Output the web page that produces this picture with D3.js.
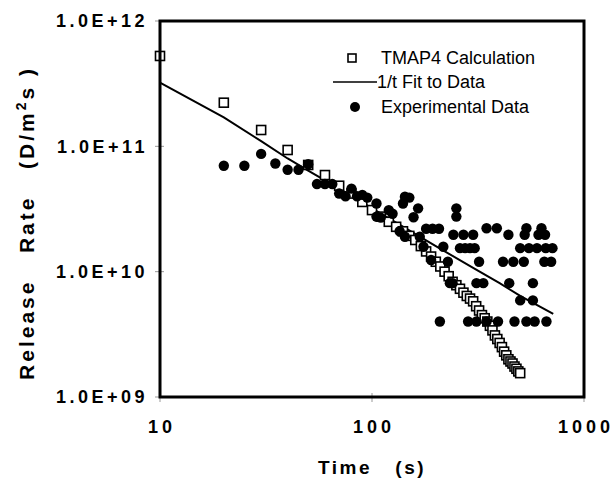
<!DOCTYPE html>
<html><head><meta charset="utf-8">
<script src="https://cdn.jsdelivr.net/npm/d3@7"></script>
<style>body{margin:0;background:#fff} svg{display:block}</style>
</head><body>
<svg id="chart" width="614" height="478"></svg>
<script>
const xTicks = [10, 100, 1000];
const xTickLabels = ["10", "100", "1000"];
const yTicks = [1e9, 1e10, 1e11, 1e12];
const yTickLabels = ["1.0E+09", "1.0E+10", "1.0E+11", "1.0E+12"];

const tmapTimes = [10,20,30,40,50,60,70,80,90,100,110,120,130,140,150,160,170,180,190,200,
  210,220,230,240,250,260,270,280,290,300,310,320,330,340,350,360,370,380,390,400,
  410,420,430,440,450,460,470,480,490,500];
const tmapValues = [5.26e11,2.23e11,1.35e11,9.35e10,7.1e10,5.9e10,4.85e10,4.2e10,3.6e10,3.1e10,
  2.75e10,2.5e10,2.28e10,2.1e10,1.93e10,1.79e10,1.6e10,1.45e10,1.32e10,1.2e10,
  1.1e10,1.0e10,9.2e9,8.3e9,7.8e9,7.3e9,6.8e9,6.4e9,6.1e9,5.8e9,
  5.3e9,4.9e9,4.5e9,4.25e9,4.0e9,3.7e9,3.4e9,3.1e9,2.9e9,2.7e9,
  2.5e9,2.3e9,2.15e9,2.0e9,1.92e9,1.85e9,1.75e9,1.68e9,1.6e9,1.55e9];

const fitTimes = [10,20,30,40,50,70,100,200,300,400,500,716];
const fitValues = [3.22e11,1.7e11,1.1e11,8.0e10,6.4e10,4.6e10,3.2e10,1.6e10,1.07e10,8.1e9,6.4e9,4.6e9];

const expTimes = [20,25,30,35,40,45,50,55,60,65,70,75,80,85,90,95,105,105,110,120,125,135,140,143,150,143,157,165,168,175,180,193,207,190,
  233,240,311,335,444,574,500,574,209,284,311,347,393,470,535,585,665,
  242,250,250,260,275,290,305,270,300,347,388,440,525,535,610,630,655,217,228,320,415,464,520,650,700,500,550,600,660,710];
const expValues = [7.0e10,7.0e10,8.7e10,7.3e10,6.5e10,6.5e10,7.2e10,5.0e10,5.0e10,5.0e10,4.2e10,4.0e10,4.6e10,4.0e10,4.1e10,3.9e10,3.5e10,2.75e10,2.7e10,3.1e10,2.9e10,2.1e10,3.5e10,3.96e10,3.9e10,1.9e10,2.72e10,3.2e10,1.9e10,1.58e10,2.2e10,2.2e10,2.2e10,1.24e10,
  8.1e9,8.1e9,8.1e9,8.1e9,8.1e9,8.1e9,5.9e9,5.9e9,4e9,4e9,4e9,4e9,4e9,4e9,4e9,4e9,4e9,
  1.97e10,3.2e10,2.75e10,1.54e10,1.54e10,1.54e10,1.54e10,1.97e10,1.97e10,2.22e10,2.22e10,1.97e10,1.97e10,2.22e10,1.97e10,2.22e10,1.97e10,1.58e10,1.2e10,1.2e10,1.2e10,1.2e10,1.2e10,1.2e10,1.2e10,1.54e10,1.54e10,1.54e10,1.54e10,1.54e10];

const legendLabels = ["TMAP4 Calculation", "1/t Fit to Data", "Experimental Data"];

const svg = d3.select("#chart");
const x = d3.scaleLog().domain([10, 1000]).range([160, 584]);
const y = d3.scaleLog().domain([1e9, 1e12]).range([397, 21]);

const tickFont = "'Liberation Sans', Arial, sans-serif";

// ticks (thin grey, crossing the axes)
svg.append("g").selectAll("line").data(yTicks).join("line")
  .attr("x1", x(10) - 5).attr("x2", x(10) + 4)
  .attr("y1", d => y(d)).attr("y2", d => y(d))
  .attr("stroke", "#999").attr("stroke-width", 1);
svg.append("g").selectAll("line").data(xTicks).join("line")
  .attr("x1", d => x(d)).attr("x2", d => x(d))
  .attr("y1", y(1e9) - 4).attr("y2", y(1e9) + 5)
  .attr("stroke", "#999").attr("stroke-width", 1);

// tick labels
svg.append("g").selectAll("text").data(yTicks).join("text")
  .attr("x", x(10) - 12).attr("y", d => y(d)).attr("dy", "0.36em")
  .attr("text-anchor", "end")
  .style("font-family", tickFont).style("font-weight", "bold").style("font-size", "18px")
  .style("letter-spacing", "3.5px")
  .text((d, i) => yTickLabels[i]);
svg.append("g").selectAll("text").data(xTicks).join("text")
  .attr("x", d => x(d) + 2).attr("y", 433)
  .attr("text-anchor", "middle")
  .style("font-family", tickFont).style("font-weight", "bold").style("font-size", "18px")
  .style("letter-spacing", "4px")
  .text((d, i) => xTickLabels[i]);

// axis titles
svg.append("text").attr("x", 372).attr("y", 474).attr("text-anchor", "middle")
  .style("font-family", tickFont).style("font-weight", "bold").style("font-size", "19px")
  .style("letter-spacing", "2.5px").style("white-space", "pre")
  .text("Time   (s)");
const yt = svg.append("text").attr("transform", "translate(34,223) rotate(-90)")
  .attr("text-anchor", "middle")
  .style("font-family", tickFont).style("font-weight", "bold").style("font-size", "21px")
  .style("letter-spacing", "3px").style("white-space", "pre");
yt.append("tspan").text("Release   Rate   (D/m");
yt.append("tspan").attr("dy", -8).style("font-size", "14px").text("2");
yt.append("tspan").attr("dy", 8).text("s )");

// fit line
const line = d3.line().x(d => x(d[0])).y(d => y(d[1]));
svg.append("path").datum(fitTimes.map((t, i) => [t, fitValues[i]]))
  .attr("d", line).attr("fill", "none").attr("stroke", "#000").attr("stroke-width", 2);

// TMAP squares
const sq = 9;
svg.append("g").selectAll("rect").data(tmapTimes.map((t, i) => [t, tmapValues[i]])).join("rect")
  .attr("x", d => x(d[0]) - sq / 2).attr("y", d => y(d[1]) - sq / 2)
  .attr("width", sq).attr("height", sq)
  .attr("fill", "#fff").attr("stroke", "#000").attr("stroke-width", 1.6);

// experimental circles
svg.append("g").selectAll("circle").data(expTimes.map((t, i) => [t, expValues[i]])).join("circle")
  .attr("cx", d => x(d[0])).attr("cy", d => y(d[1])).attr("r", 5.2).attr("fill", "#000");

// frame
svg.append("rect").attr("x", x(10)).attr("y", y(1e12))
  .attr("width", x(1000) - x(10)).attr("height", y(1e9) - y(1e12))
  .attr("fill", "none").attr("stroke", "#000").attr("stroke-width", 3);

// legend
const lg = svg.append("g").style("font-family", tickFont).style("font-size", "18px");
lg.append("rect").attr("x", 348).attr("y", 54).attr("width", 8).attr("height", 8)
  .attr("fill", "#fff").attr("stroke", "#000").attr("stroke-width", 1.6);
lg.append("line").attr("x1", 333).attr("x2", 377).attr("y1", 82).attr("y2", 82)
  .attr("stroke", "#000").attr("stroke-width", 1.5);
lg.append("circle").attr("cx", 355).attr("cy", 107).attr("r", 5).attr("fill", "#000");
lg.selectAll("text").data(legendLabels).join("text")
  .attr("x", (d, i) => i === 1 ? 377 : 381)
  .attr("y", (d, i) => [58, 82, 107][i]).attr("dy", "0.35em")
  .text(d => d);
</script>
</body></html>
